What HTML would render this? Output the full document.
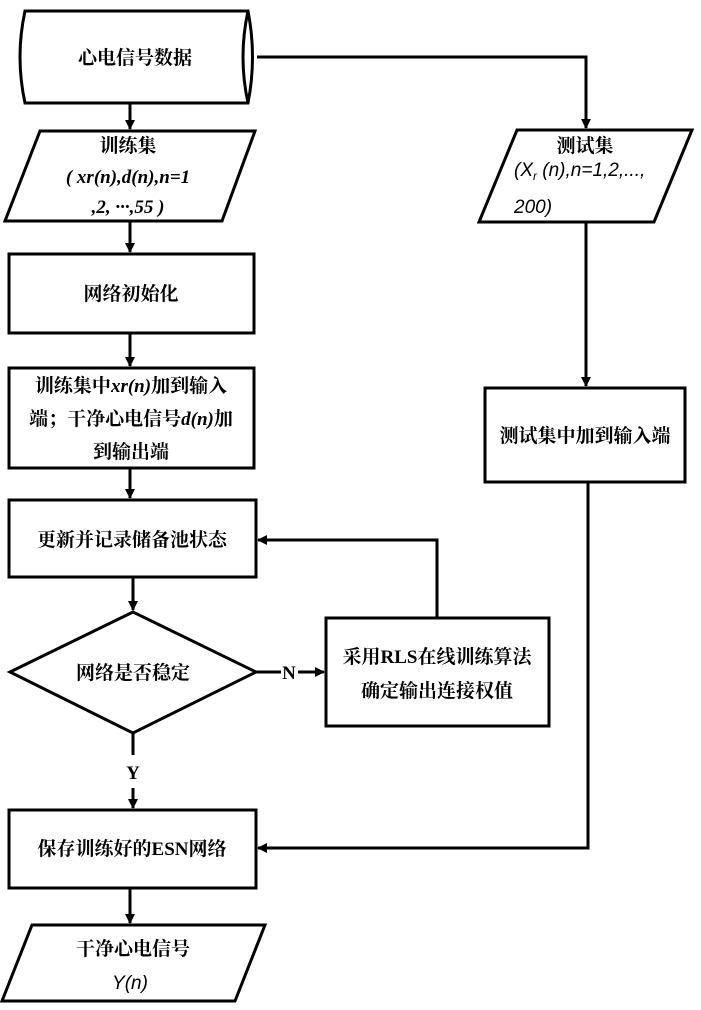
<!DOCTYPE html>
<html><head><meta charset="utf-8"><style>
html,body{margin:0;padding:0;background:#fff}
svg{display:block}
.t{font-family:"Liberation Serif","Noto Serif CJK SC",serif;font-weight:bold;font-size:19px;fill:#000}
.i{font-family:"Liberation Sans","Noto Sans CJK SC",sans-serif;font-style:italic;font-size:19px;fill:#000}
</style></head><body>
<svg width="701" height="1010" viewBox="0 0 701 1010" xmlns="http://www.w3.org/2000/svg">
<defs><marker id="a" markerWidth="10" markerHeight="10" refX="9" refY="5" orient="auto" markerUnits="userSpaceOnUse"><path d="M0,0 L10,5 L0,10 z" fill="#000"/></marker></defs>
<g stroke="#000" stroke-width="3" fill="none">
<!-- cylinder -->
<path d="M25,11 L248,11 Q257,57 248,103 L25,103 Q15,57 25,11 Z"/>
<path d="M248,11 Q238,57 248,103"/>
<!-- train parallelogram -->
<polygon points="40,131 255,131 222,221 5,221"/>
<rect x="9" y="254" width="245" height="79"/>
<rect x="9" y="368" width="245" height="100"/>
<polygon points="517,130 692,130 654,222 479,222"/>
<rect x="485" y="388" width="200" height="94"/>
<rect x="9" y="500" width="247" height="77"/>
<polygon points="10,672 133,612 256,672 133,733"/>
<rect x="326" y="618" width="223" height="108"/>
<rect x="9" y="810" width="247" height="78"/>
<polygon points="32,925 265,925 235,1001 2,1001"/>
<!-- connectors -->
<path d="M257,57 L586,57 L586,128" marker-end="url(#a)"/>
<path d="M130,104 L130,129" marker-end="url(#a)"/>
<path d="M130,221 L130,252" marker-end="url(#a)"/>
<path d="M130,333 L130,366" marker-end="url(#a)"/>
<path d="M130,468 L130,498" marker-end="url(#a)"/>
<path d="M586,222 L586,386" marker-end="url(#a)"/>
<path d="M133,577 L133,610" marker-end="url(#a)"/>
<path d="M256,672 L281,672"/>
<path d="M298,672 L324,672" marker-end="url(#a)"/>
<path d="M437,618 L437,540 L258,540" marker-end="url(#a)"/>
<path d="M133,733 L133,755"/>
<path d="M133,788 L133,808" marker-end="url(#a)"/>
<path d="M588,482 L588,848 L258,848" marker-end="url(#a)"/>
<path d="M130,888 L130,923" marker-end="url(#a)"/>
</g>
<text class="t" x="135" y="64" text-anchor="middle" font-size="20">心电信号数据</text>
<text class="t" x="128" y="152" text-anchor="middle">训练集</text>
<text class="t" x="128" y="183" text-anchor="middle" font-style="italic">( xr(n),d(n),n=1</text>
<text class="t" x="128" y="213" text-anchor="middle" font-style="italic">,2, ···,55 )</text>
<text class="t" x="131" y="300" text-anchor="middle">网络初始化</text>
<text class="t" x="131" y="392" text-anchor="middle">训练集中<tspan font-style="italic">xr(n)</tspan>加到输入</text>
<text class="t" x="131" y="425" text-anchor="middle">端；干净心电信号<tspan font-style="italic">d(n)</tspan>加</text>
<text class="t" x="131" y="458" text-anchor="middle">到输出端</text>
<text class="t" x="585" y="152" text-anchor="middle">测试集</text>
<text class="i" x="514" y="176">(X<tspan font-size="12" dy="4">r</tspan><tspan dy="-4"> (n),n=1,2,...,</tspan></text>
<text class="i" x="514" y="213">200)</text>
<text class="t" x="585" y="442" text-anchor="middle">测试集中加到输入端</text>
<text class="t" x="132" y="546" text-anchor="middle">更新并记录储备池状态</text>
<text class="t" x="133" y="679" text-anchor="middle">网络是否稳定</text>
<text class="t" x="289" y="679" text-anchor="middle">N</text>
<text class="t" x="437" y="663" text-anchor="middle">采用RLS在线训练算法</text>
<text class="t" x="437" y="697" text-anchor="middle">确定输出连接权值</text>
<text class="t" x="133" y="779" text-anchor="middle">Y</text>
<text class="t" x="132" y="855" text-anchor="middle">保存训练好的ESN网络</text>
<text class="t" x="133" y="955" text-anchor="middle">干净心电信号</text>
<text class="i" x="130" y="989" text-anchor="middle">Y(n)</text>
</svg>
</body></html>
